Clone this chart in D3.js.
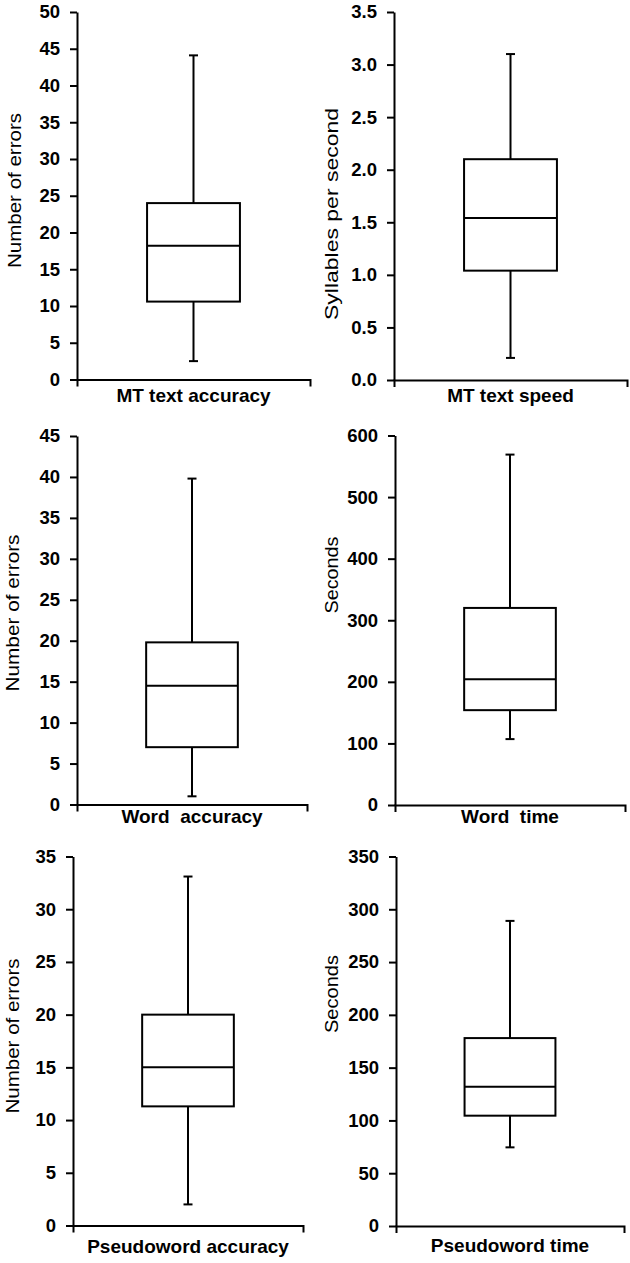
<!DOCTYPE html>
<html>
<head>
<meta charset="utf-8">
<script src="https://cdn.jsdelivr.net/npm/d3@7"></script>
<style>
  body { margin: 0; background: #fff; }
  svg { display: block; font-family: "Liberation Sans", Arial, sans-serif; }
</style>
</head>
<body>
<div id="chart"></div>
<script>
// one box per panel
var categories = ["MT text accuracy", "MT text speed", "Word  accuracy", "Word  time", "Pseudoword accuracy", "Pseudoword time"];
var yTitles = ["Number of errors", "Syllables per second", "Number of errors", "Seconds", "Number of errors", "Seconds"];
var whiskerLow = [2.5, 0.21, 1.0, 107, 2.0, 74.5];
var q1 = [10.6, 1.04, 7.0, 154, 11.3, 104.5];
var median = [18.2, 1.54, 14.5, 204, 15.0, 132];
var q3 = [24.0, 2.10, 19.8, 320, 20.0, 178];
var whiskerHigh = [44.1, 3.10, 39.8, 569, 33.1, 289];
var axisMax = [50, 3.5, 45, 600, 35, 350];
var tickStep = [5, 0.5, 5, 100, 5, 50];
var tickFormats = ["d", ".1f", "d", "d", "d", "d"];

// panel placement in the page
var layout = [
  {x: 77,  top: 12,    bottom: 379.5,  w: 233, titleX: 20.5,  titleY: 190.5, titleLen: 155, labelDy: 22.5},
  {x: 394, top: 12,    bottom: 380,    w: 233, titleX: 337.5, titleY: 214,   titleLen: 212, labelDy: 22},
  {x: 77,  top: 436,   bottom: 804.5,  w: 230, titleX: 18.5,  titleY: 613,   titleLen: 157, labelDy: 18.5},
  {x: 395, top: 435.5, bottom: 805,    w: 230, titleX: 338,   titleY: 575,   titleLen: 77,  labelDy: 18},
  {x: 73,  top: 856.5, bottom: 1225.5, w: 230, titleX: 18.5,  titleY: 1036,  titleLen: 155, labelDy: 27.5},
  {x: 396, top: 856.5, bottom: 1226,   w: 228, titleX: 338,   titleY: 994,   titleLen: 78,  labelDy: 26}
];

var W = 630, H = 1263;
var svg = d3.select("#chart").append("svg")
    .attr("width", W)
    .attr("height", H);

categories.forEach(function(cat, i) {
  var L = layout[i];
  var y = d3.scaleLinear().domain([0, axisMax[i]]).range([L.bottom, L.top]);
  var x = d3.scaleBand().domain([cat]).range([L.x, L.x + L.w]).padding(0.43);
  var g = svg.append("g");

  var ticks = d3.range(0, axisMax[i] + tickStep[i] / 2, tickStep[i]);
  var yAxis = g.append("g")
      .attr("transform", "translate(" + L.x + ",0)")
      .call(d3.axisLeft(y).tickValues(ticks).tickFormat(d3.format(tickFormats[i]))
            .tickSize(7).tickSizeOuter(0).tickPadding(10));
  yAxis.attr("font-size", null).attr("font-family", null);
  yAxis.selectAll("text")
      .attr("font-size", 18.5).attr("font-weight", "bold").attr("fill", "#000");

  var xAxis = g.append("g")
      .attr("transform", "translate(0," + L.bottom + ")")
      .call(d3.axisBottom(x).tickSize(0).tickSizeOuter(7).tickPadding(0));
  xAxis.attr("font-size", null).attr("font-family", null);
  xAxis.selectAll(".tick text")
      .attr("y", L.labelDy).attr("dy", null)
      .attr("font-size", 19).attr("font-weight", "bold").attr("fill", "#000")
      .style("white-space", "pre");

  g.selectAll(".domain, .tick line").attr("stroke", "#000").attr("stroke-width", 2);

  g.append("text")
      .attr("transform", "translate(" + L.titleX + "," + L.titleY + ") rotate(-90)")
      .attr("text-anchor", "middle")
      .attr("font-size", 19)
      .attr("textLength", L.titleLen)
      .attr("lengthAdjust", "spacingAndGlyphs")
      .attr("fill", "#000")
      .text(yTitles[i]);

  var cx = x(cat) + x.bandwidth() / 2;
  var capW = 9;
  var box = g.append("g").attr("stroke", "#000").attr("stroke-width", 2).attr("fill", "none");
  // whiskers
  box.append("line").attr("x1", cx).attr("x2", cx).attr("y1", y(q3[i])).attr("y2", y(whiskerHigh[i]));
  box.append("line").attr("x1", cx).attr("x2", cx).attr("y1", y(q1[i])).attr("y2", y(whiskerLow[i]));
  box.append("line").attr("x1", cx - capW / 2).attr("x2", cx + capW / 2).attr("y1", y(whiskerHigh[i])).attr("y2", y(whiskerHigh[i]));
  box.append("line").attr("x1", cx - capW / 2).attr("x2", cx + capW / 2).attr("y1", y(whiskerLow[i])).attr("y2", y(whiskerLow[i]));
  // box and median
  box.append("rect")
      .attr("x", x(cat)).attr("width", x.bandwidth())
      .attr("y", y(q3[i])).attr("height", y(q1[i]) - y(q3[i]))
      .attr("fill", "#fff");
  box.append("line")
      .attr("x1", x(cat)).attr("x2", x(cat) + x.bandwidth())
      .attr("y1", y(median[i])).attr("y2", y(median[i]));
});
</script>
</body>
</html>
